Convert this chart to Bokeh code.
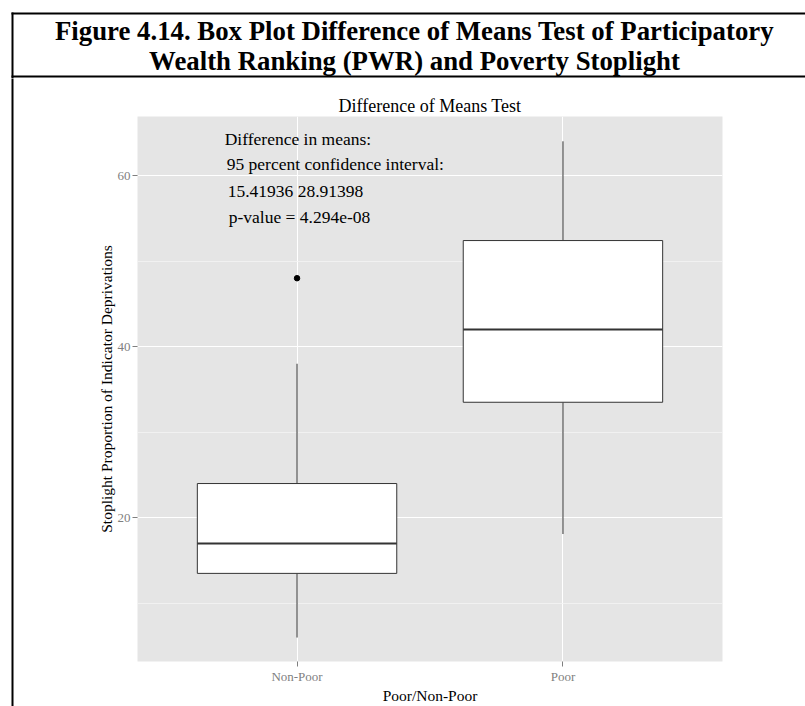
from bokeh.plotting import figure
from bokeh.layouts import column, row
from bokeh.models import FixedTicker, Range1d, ColumnDataSource, Label
from bokeh.embed import file_html
from bokeh.resources import INLINE
from bokeh.core.properties import value

# ---- data ----
categories = ["Non-Poor", "Poor"]
q1 = [13.5, 33.5]
medians = [17.0, 42.0]
q3 = [24.0, 52.4]
whisker_low = [6.0, 18.1]
whisker_high = [38.0, 64.0]
outlier_category = ["Non-Poor"]
outlier_values = [48.0]
y_ticks = [20, 40, 60]
y_minor_ticks = [10, 30, 50]
annotation_lines = [
    "Difference in means:",
    "95 percent confidence interval:",
    "15.41936 28.91398",
    "p-value = 4.294e-08",
]
figure_title = [
    "Figure 4.14. Box Plot Difference of Means Test of Participatory",
    "Wealth Ranking (PWR) and Poverty Stoplight",
]
chart_title = "Difference of Means Test"
x_title = "Poor/Non-Poor"
y_title = "Stoplight Proportion of Indicator Deprivations"

SERIF = "Liberation Serif"
BOX_WIDTH = 0.75
W, H = 805, 706
TOP_H = 78
LEFT_W = 14


def blank_fig(w, h, xr, yr):
    f = figure(width=w, height=h, output_backend="svg", toolbar_location=None,
               x_range=xr, y_range=yr, x_axis_location=None, y_axis_location=None,
               min_border=0, title=None)
    f.frame_align = False
    f.outline_line_color = None
    f.background_fill_color = "white"
    f.border_fill_color = "white"
    f.grid.grid_line_color = None
    return f


# ---- caption box at the top (y measured upward from the bottom of this strip) ----
top = blank_fig(W, TOP_H, Range1d(0, W), Range1d(0, TOP_H))
top.segment(x0=[11, 11], y0=[TOP_H - 13, TOP_H - 76], x1=[W + 30, W + 30],
            y1=[TOP_H - 13, TOP_H - 76], line_color="black", line_width=2,
            line_cap="butt")
top.segment(x0=[12], y0=[TOP_H - 12], x1=[12], y1=[-10], line_color="black",
            line_width=2, line_cap="butt")
for txt, yy in zip(figure_title, [TOP_H - 30, TOP_H - 60]):
    top.add_layout(Label(x=414, y=yy, text=txt, text_font=SERIF,
                         text_font_size="26.8px", text_font_style="bold",
                         text_color="black", text_align="center",
                         text_baseline="middle"))

# ---- left rule of the caption box ----
left = blank_fig(LEFT_W, H - TOP_H, Range1d(0, LEFT_W), Range1d(0, H - TOP_H))
left.segment(x0=[12], y0=[-10], x1=[12], y1=[H - TOP_H + 10], line_color="black",
             line_width=2, line_cap="butt")

# ---- box plot ----
xpos = [i + 1 for i in range(len(categories))]
src = ColumnDataSource(dict(
    x=xpos, q1=q1, med=medians, q3=q3, lo=whisker_low, hi=whisker_high,
    left=[x - BOX_WIDTH / 2 for x in xpos], right=[x + BOX_WIDTH / 2 for x in xpos],
))

p = figure(width=W - LEFT_W, height=H - TOP_H, output_backend="svg", toolbar_location=None,
           x_range=Range1d(0.4, 2.6), y_range=Range1d(3.2, 66.9),
           min_border_left=123, min_border_right=83, min_border_top=38,
           min_border_bottom=44)
p.frame_align = False
p.background_fill_color = "#E5E5E5"
p.border_fill_color = "white"
p.outline_line_color = None

for ax in (p.xaxis[0], p.yaxis[0]):
    ax.axis_line_color = None
    ax.major_tick_in = 0
    ax.major_tick_out = 5
    ax.major_tick_line_color = "#7F7F7F"
    ax.minor_tick_line_color = None
    ax.major_label_text_font = SERIF
    ax.major_label_text_font_size = "13px"
    ax.major_label_text_color = "#7F7F7F"
    ax.major_label_standoff = 2
    ax.axis_label_text_font = SERIF
    ax.axis_label_text_font_size = "15.5px"
    ax.axis_label_text_font_style = "normal"
    ax.axis_label_text_color = "black"
    ax.axis_label_standoff = 0

p.xaxis.ticker = FixedTicker(ticks=xpos)
p.xaxis.major_label_overrides = {x: c for x, c in zip(xpos, categories)}
p.xaxis.axis_label = x_title
p.yaxis.ticker = FixedTicker(ticks=y_ticks, minor_ticks=y_minor_ticks)
p.yaxis.axis_label = y_title

p.xgrid.ticker = FixedTicker(ticks=xpos)
p.xgrid.grid_line_color = "white"
p.xgrid.grid_line_width = 1
p.ygrid.grid_line_color = "white"
p.ygrid.grid_line_width = 1
p.ygrid.minor_grid_line_color = "#F4F4F4"
p.ygrid.minor_grid_line_width = 0.8

p.title.text = chart_title
p.title.align = "center"
p.title.text_font = SERIF
p.title.text_font_size = "18px"
p.title.text_font_style = "normal"
p.title.text_color = "black"
p.title.standoff = 2

p.segment(x0="x", y0="lo", x1="x", y1="q1", source=src, line_color="#333333", line_width=1)
p.segment(x0="x", y0="q3", x1="x", y1="hi", source=src, line_color="#333333", line_width=1)
p.vbar(x="x", width=BOX_WIDTH, bottom="q1", top="q3", source=src,
       fill_color="white", line_color="#333333", line_width=1)
p.segment(x0="left", y0="med", x1="right", y1="med", source=src,
          line_color="#333333", line_width=2)
out_x = [xpos[categories.index(c)] for c in outlier_category]
p.scatter(x=out_x, y=outlier_values, size=5.5, color="black")

p.text(x=[0.728] * 4, y=[64.3, 61.3, 58.2, 55.1], text=annotation_lines,
       x_offset=[0, 2, 3, 4],
       text_font=value(SERIF), text_font_size="17.5px", text_color="black",
       text_align="left", text_baseline="middle")

layout = column(top, row(left, p))
open("out.html", "w").write(file_html(layout, INLINE))
